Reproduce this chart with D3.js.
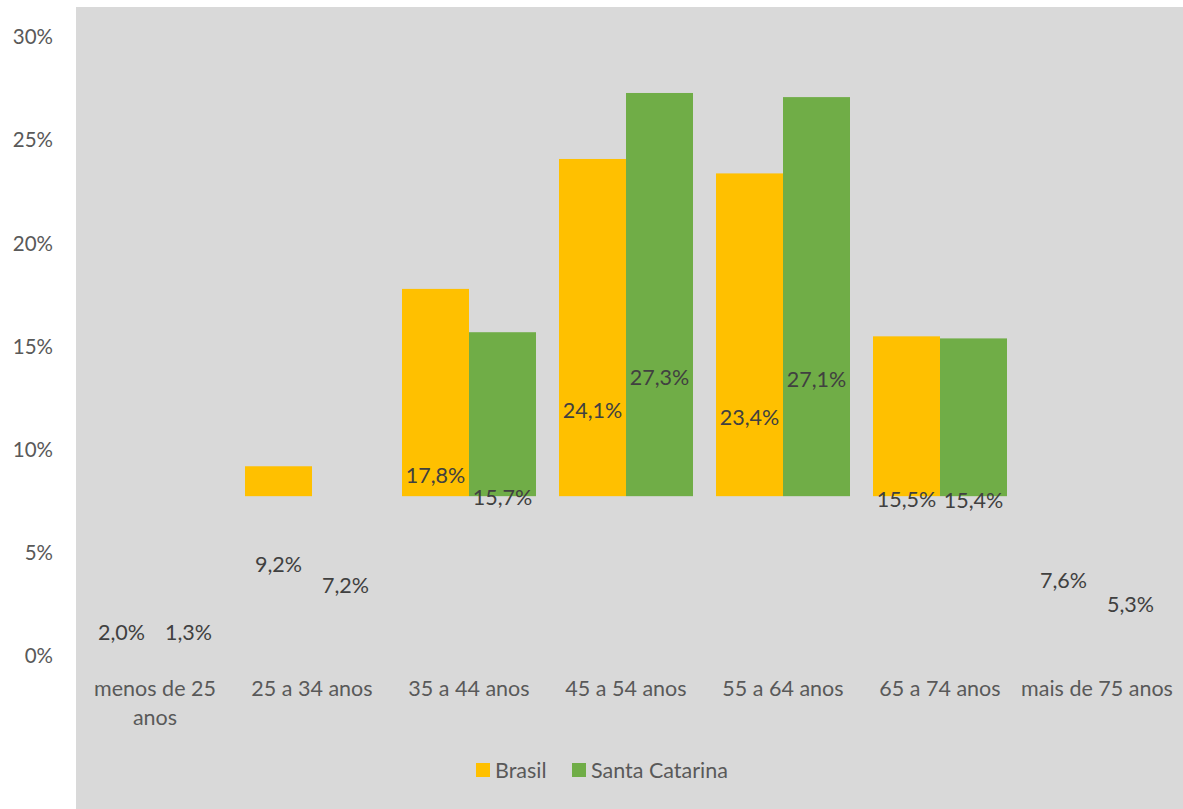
<!DOCTYPE html>
<html>
<head>
<meta charset="utf-8">
<script src="https://cdn.jsdelivr.net/npm/d3@7"></script>
<style>
  html, body { margin: 0; padding: 0; background: #ffffff; }
  svg { display: block; }
</style>
</head>
<body>
<svg id="chart" width="1183" height="809"></svg>
<script>
// Faixas etárias e participação (%) por região
const categories = [
  ["menos de 25", "anos"],
  ["25 a 34 anos"],
  ["35 a 44 anos"],
  ["45 a 54 anos"],
  ["55 a 64 anos"],
  ["65 a 74 anos"],
  ["mais de 75 anos"]
];
const seriesNames = ["Brasil", "Santa Catarina"];
const brasil = [2.0, 9.2, 17.8, 24.1, 23.4, 15.5, 7.6];
const santaCatarina = [1.3, 7.2, 15.7, 27.3, 27.1, 15.4, 5.3];
const yTicks = [0, 5, 10, 15, 20, 25, 30];
// valor em que o eixo horizontal cruza o eixo vertical (base das barras)
const axisCross = 7.75;
// posição mínima dos rótulos de dados (não descem abaixo deste valor)
const labelFloor = 1.3;

const colors = ["#ffc000", "#70ad47"];
const fontFamily = "Lato, 'Open Sans', sans-serif";
const fs = 21.5;

const svg = d3.select("#chart");
const W = 1183, H = 809;

// área cinza do gráfico
svg.append("rect")
  .attr("x", 76).attr("y", 7)
  .attr("width", W - 76).attr("height", H - 7)
  .attr("fill", "#d9d9d9");

const y = d3.scaleLinear().domain([0, 30]).range([656, 37.3]);
const x0 = d3.scaleBand()
  .domain(d3.range(categories.length))
  .range([76.5, 1175.5])
  .paddingInner(0)
  .paddingOuter(0);
const groupW = 134;
const x1 = d3.scaleBand()
  .domain(seriesNames)
  .range([0, groupW])
  .padding(0);

// eixo vertical (apenas rótulos)
const yAxis = d3.axisLeft(y)
  .tickValues(yTicks)
  .tickFormat(d => d + "%")
  .tickSize(0)
  .tickPadding(0);
const gy = svg.append("g").attr("transform", "translate(53,0)").call(yAxis);
gy.select(".domain").remove();
gy.selectAll("text")
  .attr("font-family", fontFamily)
  .attr("font-size", 20.5)
  .attr("fill", "#595959")
  .attr("dy", "0.32em");

const series = [brasil, santaCatarina];
const rows = [];
series.forEach((vals, si) => {
  vals.forEach((v, ci) => rows.push({ si, ci, v, name: seriesNames[si] }));
});

const groupX = ci => x0(ci) + x0.bandwidth() / 2 - groupW / 2;

// barras: partem do cruzamento do eixo e só aparecem acima dele
svg.append("g").selectAll("rect")
  .data(rows)
  .join("rect")
  .attr("x", d => groupX(d.ci) + x1(d.name))
  .attr("width", x1.bandwidth())
  .attr("y", d => y(Math.max(d.v, axisCross)))
  .attr("height", d => y(axisCross) - y(Math.max(d.v, axisCross)))
  .attr("fill", d => colors[d.si]);

// rótulos de dados (posição "centro" em relação ao zero)
svg.append("g").selectAll("text")
  .data(rows)
  .join("text")
  .attr("x", d => groupX(d.ci) + x1(d.name) + x1.bandwidth() / 2)
  .attr("y", d => y(Math.max(d.v / 2, labelFloor)))
  .attr("dy", "0.5em")
  .attr("text-anchor", "middle")
  .attr("font-family", fontFamily)
  .attr("font-size", fs)
  .attr("fill", "#404040")
  .text(d => d3.format(".1f")(d.v).replace(".", ",") + "%");

// rótulos das categorias
const catG = svg.append("g");
categories.forEach((lines, ci) => {
  const t = catG.append("text")
    .attr("x", x0(ci) + x0.bandwidth() / 2)
    .attr("y", 688)
    .attr("text-anchor", "middle")
    .attr("font-family", fontFamily)
    .attr("font-size", fs)
    .attr("fill", "#595959");
  lines.forEach((ln, li) => {
    t.append("tspan")
      .attr("x", x0(ci) + x0.bandwidth() / 2)
      .attr("dy", li === 0 ? "0.35em" : "1.35em")
      .text(ln);
  });
});

// legenda
const legendX = [476, 572];
const lg = svg.append("g");
seriesNames.forEach((name, i) => {
  lg.append("rect")
    .attr("x", legendX[i]).attr("y", 763)
    .attr("width", 14).attr("height", 14)
    .attr("fill", colors[i]);
  lg.append("text")
    .attr("x", legendX[i] + 19).attr("y", 770)
    .attr("dy", "0.35em")
    .attr("font-family", fontFamily)
    .attr("font-size", fs)
    .attr("fill", "#595959")
    .text(name);
});
</script>
</body>
</html>
